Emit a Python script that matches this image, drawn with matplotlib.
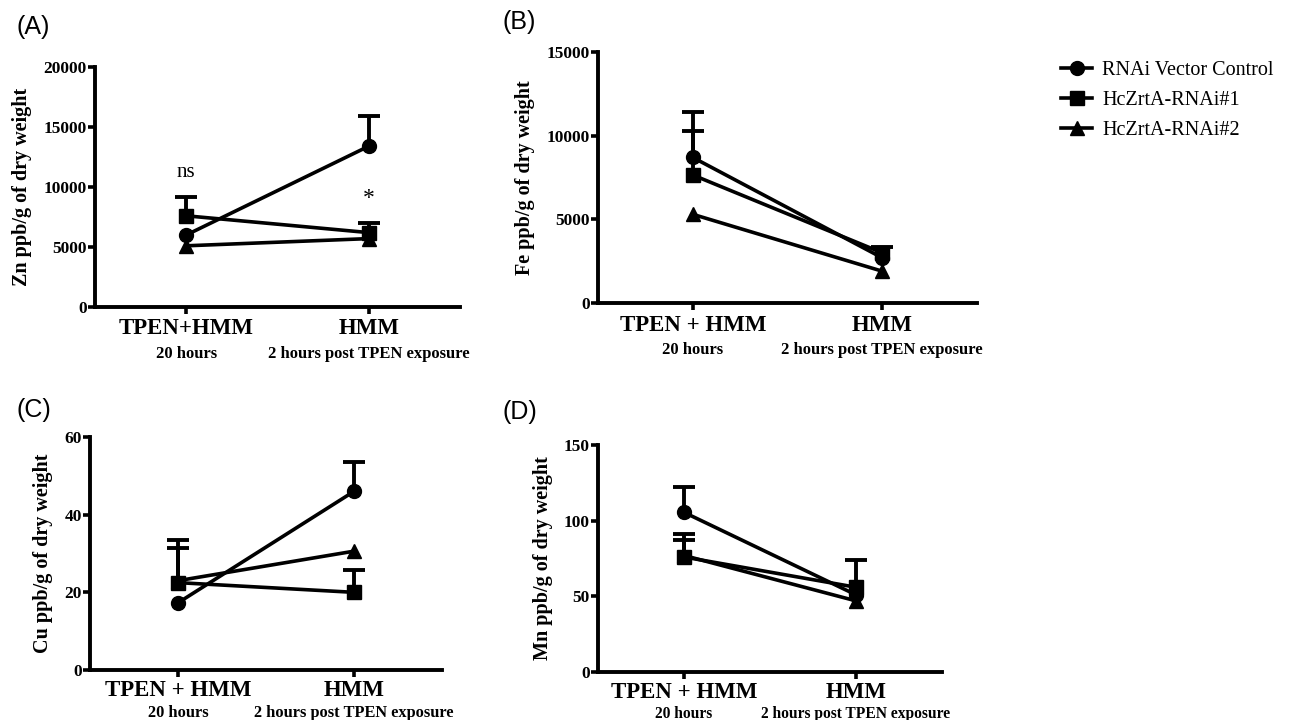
import numpy as np
import matplotlib
matplotlib.use('Agg')
import matplotlib.pyplot as plt
import matplotlib.transforms as mtransforms

plt.rcParams['font.family'] = ['Liberation Serif', 'DejaVu Serif']

groups = ['RNAi Vector Control', 'HcZrtA-RNAi#1', 'HcZrtA-RNAi#2']
markers = ['o', 's', '^']

# x categories
main_labels_a = ['TPEN+HMM', 'HMM']
main_labels = ['TPEN + HMM', 'HMM']
sub_labels = ['20 hours', '2 hours post TPEN exposure']

# Zn (A)
zn_mean = [[6000, 13400], [7600, 6200], [5100, 5700]]
zn_err = [[0, 2500], [1600, 800], [0, 0]]
# Fe (B)
fe_mean = [[8700, 2700], [7650, 3000], [5300, 1900]]
fe_err = [[2700, 0], [2650, 350], [0, 0]]
# Cu (C)
cu_mean = [[17.3, 46.0], [22.5, 20.0], [23.0, 30.6]]
cu_err = [[0, 7.6], [11.0, 5.8], [8.5, 0]]
# Mn (D)
mn_mean = [[105.5, 51.0], [76.0, 56.0], [77.0, 47.0]]
mn_err = [[16.5, 0], [15.5, 18.0], [10.5, 0]]

fig = plt.figure(figsize=(12.9, 7.2), dpi=100)
W, H = 1290, 720


def add_ax(l, t, r, b):
    return fig.add_axes([l / W, 1 - b / H, (r - l) / W, (b - t) / H])


def panel(ax, means, errs, ylim, yticks, ylabel, xlabs, main_off, sub_off, sub_fs=12):
    x = np.arange(2)
    for m, e, mk in zip(means, errs, markers):
        m = np.array(m, float)
        e = np.array(e, float)
        ax.plot(x, m, '-', marker=mk, color='black', lw=2.6, ms=10)
        k = e > 0
        # only upper error bars, as in the original graph
        ax.errorbar(x[k], m[k] + e[k] / 2, yerr=e[k] / 2, fmt='none', ecolor='black',
                    elinewidth=2.8, capsize=0)
        ax.plot(x[k], m[k] + e[k], '_', color='black', ms=16, mew=2.8)
    ax.set_xlim(-0.5, 1.5)
    ax.set_ylim(*ylim)
    ax.set_yticks(yticks)
    ax.set_yticklabels([str(v) for v in yticks], fontsize=12.5, fontweight='bold')
    ax.set_xticks(x)
    ax.set_xticklabels([])
    ax.tick_params(axis='both', width=2.6, length=5, direction='out', pad=1)
    for s in ['top', 'right']:
        ax.spines[s].set_visible(False)
    for s in ['left', 'bottom']:
        ax.spines[s].set_linewidth(2.8)
    ax.set_ylabel(ylabel, fontsize=14.5, fontweight='bold', labelpad=8)
    trans = mtransforms.blended_transform_factory(ax.transData, ax.transAxes)
    for xi, s, s2 in zip(x, xlabs, sub_labels):
        ax.annotate(s, (xi, 0), xycoords=trans, xytext=(0, -main_off),
                    textcoords='offset pixels', ha='center', va='center',
                    fontsize=16.5, fontweight='bold')
        ax.annotate(s2, (xi, 0), xycoords=trans, xytext=(0, -sub_off),
                    textcoords='offset pixels', ha='center', va='center',
                    fontsize=sub_fs, fontweight='bold')


axA = add_ax(95, 67, 460, 307)
panel(axA, zn_mean, zn_err, (0, 20000), [0, 5000, 10000, 15000, 20000],
      'Zn ppb/g of dry weight', main_labels_a, 22, 47)
axA.text(0, 11200, 'ns', ha='center', va='center', fontsize=15)
axA.text(1, 9000, '*', ha='center', va='center', fontsize=17)

axB = add_ax(598, 52, 977, 303)
panel(axB, fe_mean, fe_err, (0, 15000), [0, 5000, 10000, 15000],
      'Fe ppb/g of dry weight', main_labels, 22, 47)

axC = add_ax(90, 437, 442, 670)
panel(axC, cu_mean, cu_err, (0, 60), [0, 20, 40, 60],
      'Cu ppb/g of dry weight', main_labels, 20, 43, sub_fs=11.8)

axD = add_ax(598, 445, 942, 672)
panel(axD, mn_mean, mn_err, (0, 150), [0, 50, 100, 150],
      'Mn ppb/g of dry weight', main_labels, 20, 42, sub_fs=11.2)

for lab, (px, py) in zip(['(A)', '(B)', '(C)', '(D)'],
                         [(17, 27), (502, 22), (17, 410), (502, 412)]):
    fig.text(px / W, 1 - py / H, lab, fontsize=18, family='Liberation Sans',
             ha='left', va='center')

handles = [plt.Line2D([], [], color='black', lw=2.6, marker=mk, ms=10) for mk in markers]
fig.legend(handles, groups, loc='upper left', bbox_to_anchor=(1061 / W, 1 - 61 / H),
           frameon=False, fontsize=14.5, handlelength=1.55, labelspacing=0.55,
           handletextpad=0.5, borderaxespad=0, borderpad=0)

fig.savefig('out.png', dpi=100)
